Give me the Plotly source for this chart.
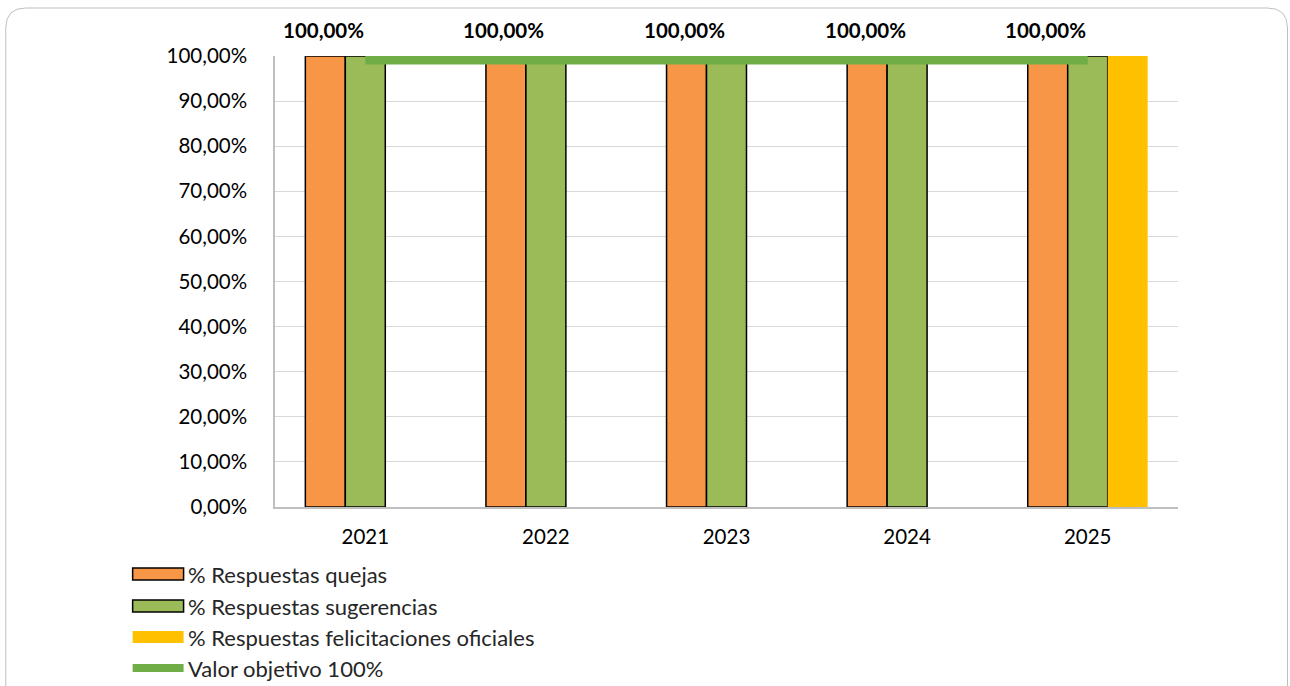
import plotly.graph_objects as go

years = ["2021", "2022", "2023", "2024", "2025"]
quejas = [100, 100, 100, 100, 100]
sugerencias = [100, 100, 100, 100, 100]
felicitaciones = [None, None, None, None, 100]
objetivo = [100, 100, 100, 100, 100]
label_text = ["100,00%", "100,00%", "100,00%", "100,00%", "100,00%"]
y_tickvals = [0, 10, 20, 30, 40, 50, 60, 70, 80, 90, 100]
y_ticktext = ["0,00%", "10,00%", "20,00%", "30,00%", "40,00%", "50,00%",
              "60,00%", "70,00%", "80,00%", "90,00%", "100,00%"]
series_names = ["% Respuestas quejas", "% Respuestas sugerencias",
                "% Respuestas felicitaciones oficiales", "Valor objetivo 100%"]

C_OR = "#F79646"
C_GR = "#9BBB59"
C_YE = "#FFC000"
C_LN = "#70AD47"
FONT = "Lato"
FS = 20.5
FS_LEG = 22

fig = go.Figure()
fig.add_trace(go.Bar(x=years, y=quejas, name=series_names[0], marker=dict(color=C_OR, line=dict(color="black", width=1.5))))
fig.add_trace(go.Bar(x=years, y=sugerencias, name=series_names[1], marker=dict(color=C_GR, line=dict(color="black", width=1.5))))
fig.add_trace(go.Bar(x=years, y=felicitaciones, name=series_names[2], marker=dict(color=C_YE, line=dict(width=0))))
fig.add_trace(go.Scatter(x=years, y=objetivo, name=series_names[3], mode="lines", line=dict(color=C_LN, width=17)))

L, R, T, B = 274.5, 111.6, 56, 179
W, H = 1290, 686
pw, ph = W - L - R, H - T - B

def px(x):
    return (x - L) / pw

def py(y):
    return (H - B - y) / ph

annotations = []
for i, (v, t) in enumerate(zip(quejas, label_text)):
    annotations.append(dict(x=i, y=v, xref="x", yref="y", text=t, showarrow=False, xshift=-42, yshift=26,
                            font=dict(family=FONT, size=FS, color="black", weight="bold")))

shapes = []
# chart frame with rounded corners
x0, y0, x1, y1, r = px(5), py(8), px(1288), py(720), 20
rx, ry = r / pw, r / ph
path = (f"M {x0+rx},{y0} L {x1-rx},{y0} Q {x1},{y0} {x1},{y0-ry} L {x1},{y1+ry} "
        f"Q {x1},{y1} {x1-rx},{y1} L {x0+rx},{y1} Q {x0},{y1} {x0},{y1+ry} "
        f"L {x0},{y0-ry} Q {x0},{y0} {x0+rx},{y0} Z")
shapes.append(dict(type="path", path=path, xref="paper", yref="paper",
                   line=dict(color="#BFBFBF", width=1), fillcolor="rgba(0,0,0,0)", layer="below"))

# custom legend
rows = [574, 606, 637, 668]
swatch = [(C_OR, "black"), (C_GR, "black"), (C_YE, None)]
for i, (fc, lc) in enumerate(swatch):
    yc = rows[i]
    shapes.append(dict(type="rect", xref="paper", yref="paper",
                       x0=px(132), x1=px(183), y0=py(yc - 6), y1=py(yc + 6),
                       fillcolor=fc, line=dict(color=lc if lc else fc, width=1.5 if lc else 0)))
shapes.append(dict(type="line", xref="paper", yref="paper",
                   x0=px(132), x1=px(183), y0=py(rows[3]), y1=py(rows[3]),
                   line=dict(color=C_LN, width=8)))
for name, yc in zip(series_names, rows):
    annotations.append(dict(x=px(185), y=py(yc), xref="paper", yref="paper", text=name,
                            showarrow=False, xanchor="left", yanchor="middle",
                            font=dict(family=FONT, size=FS_LEG, color="#262626")))

fig.update_layout(
    width=W, height=H,
    margin=dict(l=L, r=R, t=T, b=B, autoexpand=False),
    paper_bgcolor="white", plot_bgcolor="white",
    barmode="group", bargap=0.336, bargroupgap=0,
    showlegend=False,
    font=dict(family=FONT, size=FS, color="black"),
    annotations=annotations, shapes=shapes,
)
fig.update_xaxes(type="category", range=[-0.5, len(years) - 0.5], showgrid=False, showline=True,
                 linecolor="#BFBFBF", linewidth=1.5,
                 ticks="", ticklabelstandoff=11, tickfont=dict(family=FONT, size=FS, color="black"))
fig.update_yaxes(range=[0, 100], tickvals=y_tickvals, ticktext=y_ticktext,
                 showgrid=True, gridcolor="#D9D9D9", gridwidth=1,
                 showline=True, linecolor="#BFBFBF", linewidth=1.5, zeroline=False,
                 ticks="", ticklabelstandoff=22, tickfont=dict(family=FONT, size=FS, color="black"))

fig.write_html("out.html")
